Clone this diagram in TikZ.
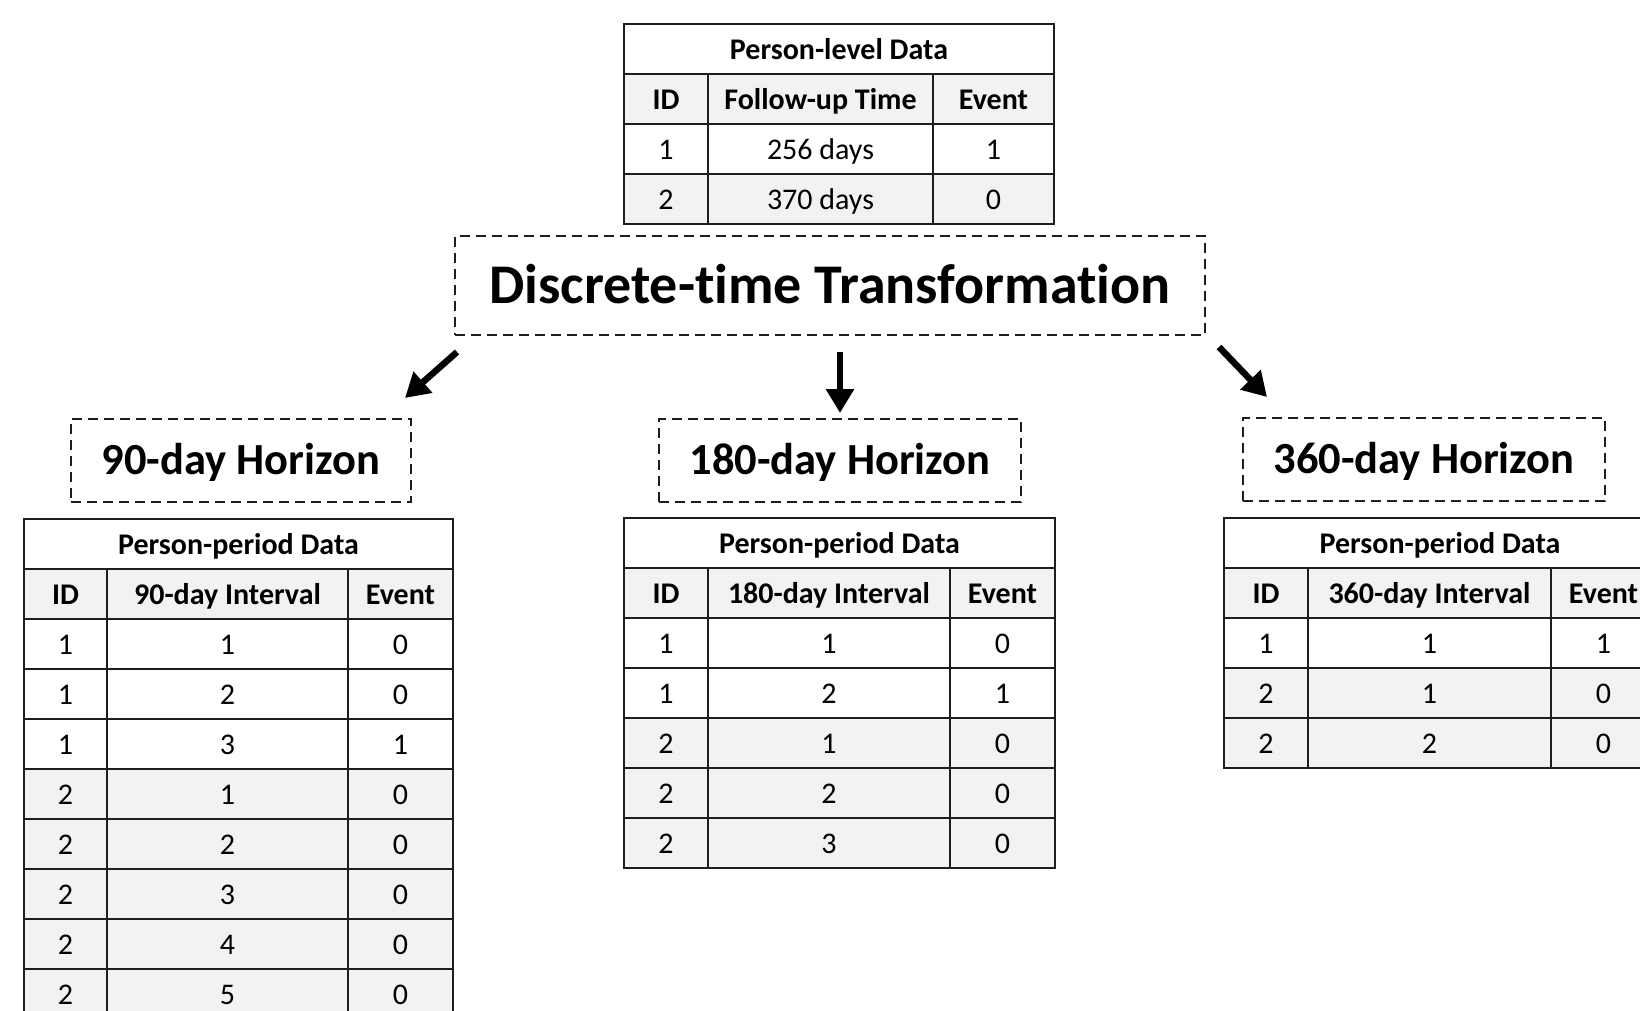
\documentclass[tikz,border=0pt]{standalone}
\usepackage{fontspec}
\setmainfont{Carlito}[Ligatures=NoCommon]
\usetikzlibrary{arrows.meta}

\definecolor{rowgray}{HTML}{F2F2F2}
\definecolor{rulec}{HTML}{1E1E1E}

\newcommand{\cellfont}{\fontsize{30}{36}\selectfont}
\newcommand{\headfont}{\fontsize{30}{36}\selectfont\bfseries}

\tikzset{
  cell/.style={draw=rulec, line width=1.8pt, rectangle, anchor=north west,
    minimum height=50pt, inner sep=0pt, outer sep=0pt,
    text height=21pt, text depth=0pt, font=\cellfont},
  dashbox/.style={draw=rulec, line width=2.6pt, dash pattern=on 10pt off 6pt,
    rectangle, inner sep=0pt, outer sep=0pt, text depth=0pt},
  flowarrow/.style={draw=black, line width=6.5pt,
    -{Triangle[length=24pt,width=27pt]}},
}

% A data table: #1 name, #2 left, #3 top, #4-#6 column widths,
% #7 title, #8 second column head, #9 rows as id/interval/event/fill
\newcommand{\datatable}[9]{%
  \pgfmathsetmacro{\tablewd}{#4+#5+#6}
  \node[cell, minimum width=\tablewd pt, font=\headfont] (#1-title) at (#2,#3) {#7};
  \node[cell, fill=rowgray, minimum width=#4pt, font=\headfont] (#1-h1) at (#2,#3+50) {ID};
  \node[cell, fill=rowgray, minimum width=#5pt, font=\headfont] (#1-h2) at (#2+#4,#3+50) {#8};
  \node[cell, fill=rowgray, minimum width=#6pt, font=\headfont] (#1-h3) at (#2+#4+#5,#3+50) {Event};
  \foreach \idv/\ivv/\evv/\bg [count=\k] in {#9} {
    \node[cell, fill=\bg, minimum width=#4pt] (#1-r\k c1) at (#2,#3+50+50*\k) {\idv};
    \node[cell, fill=\bg, minimum width=#5pt] (#1-r\k c2) at (#2+#4,#3+50+50*\k) {\ivv};
    \node[cell, fill=\bg, minimum width=#6pt] (#1-r\k c3) at (#2+#4+#5,#3+50+50*\k) {\evv};
  }
}

\begin{document}
\begin{tikzpicture}[x=1pt, y=-1pt]
  \useasboundingbox (0,0) rectangle (1640,1010);
  \clip (0,0) rectangle (1640,1010);
  \fill[white] (0,0) rectangle (1640,1010);

  % person-level input table
  \datatable{pl}{624}{24}{84}{225}{121}{Person-level Data}{Follow-up Time}
    {1/256 days/1/white, 2/370 days/0/rowgray}

  % transformation step
  \node[dashbox, minimum width=750pt, minimum height=99pt, text height=36pt,
        font=\fontsize{56}{66}\selectfont\bfseries] (dt) at (830,285.5)
        {Discrete-time Transformation};

  % horizon labels
  \tikzset{horizon/.style={dashbox, minimum height=83pt, text height=28.5pt,
        font=\fontsize{44.5}{52}\selectfont\bfseries}}
  \node[horizon, minimum width=340pt] (h90) at (241,460.5) {90-day Horizon};
  \node[horizon, minimum width=362pt] (h180) at (840,460.5) {180-day Horizon};
  \node[horizon, minimum width=362pt] (h360) at (1424,459.5) {360-day Horizon};

  % arrows from the transformation to each horizon
  \coordinate (a90s) at (457,352);
  \coordinate (a90e) at (405,398);
  \coordinate (a180s) at (840,352);
  \coordinate (a180e) at (840,413);
  \coordinate (a360s) at (1219,347);
  \coordinate (a360e) at (1267,397);
  \draw[flowarrow] (a90s) -- (a90e);
  \draw[flowarrow] (a180s) -- (a180e);
  \draw[flowarrow] (a360s) -- (a360e);

  % person-period tables
  \datatable{p90}{24}{519}{83}{241}{105}{Person-period Data}{90-day Interval}
    {1/1/0/white, 1/2/0/white, 1/3/1/white, 2/1/0/rowgray, 2/2/0/rowgray,
     2/3/0/rowgray, 2/4/0/rowgray, 2/5/0/rowgray}
  \datatable{p180}{624}{518}{84}{242}{105}{Person-period Data}{180-day Interval}
    {1/1/0/white, 1/2/1/white, 2/1/0/rowgray, 2/2/0/rowgray, 2/3/0/rowgray}
  \datatable{p360}{1224}{518}{84}{243}{105}{Person-period Data}{360-day Interval}
    {1/1/1/white, 2/1/0/rowgray, 2/2/0/rowgray}
\end{tikzpicture}
\end{document}
